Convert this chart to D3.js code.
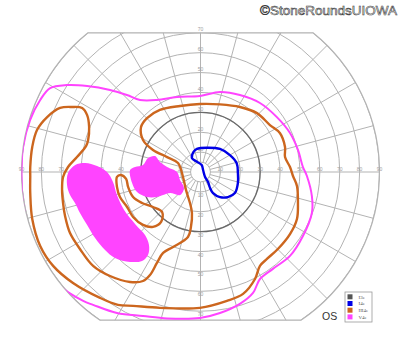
<!DOCTYPE html>
<html>
<head>
<meta charset="utf-8">
<script src="https://cdn.jsdelivr.net/npm/d3@7"></script>
<style>
  html, body { margin: 0; padding: 0; background: #fff; }
  #chart { width: 400px; height: 352px; }
</style>
</head>
<body>
<div id="chart"></div>
<script>
// isopters, in degrees of visual field: [horizontal, vertical]
const isopterV4e = [
  [-90, -2], [-89.2, 12.6], [-85.7, 26.1], [-80.6, 36.2], [-75.6, 42.2], [-67.1, 43.7],
  [-57, 43.2], [-45.5, 41.2], [-37, 38.7], [-30.4, 36.2], [-21.9, 36.2], [-11.8, 37.7],
  [-0.3, 38.2], [9.8, 40.2], [19.8, 38.7], [29.9, 34.7], [38.4, 27.6], [45, 19.6],
  [49, 11.1], [51.5, 2.5], [53.5, -2], [56, -12.1], [56, -20.6], [51.5, -32.2],
  [45, -42.2], [36.4, -48.7], [29.9, -53.8], [26.4, -60.8], [19.8, -66.3], [9.8, -70.9],
  [-0.3, -73.4], [-16.8, -73.6], [-28.9, -72.4], [-42, -70.9], [-54, -66.8], [-59, -64.8],
  [-70.6, -57.3], [-79.1, -45.7], [-85.7, -30.7], [-89.2, -15.6]
];

const isopterIII4e = [
  [-0.3, 34.2], [9.8, 34], [19.8, 32.7], [28.4, 29.6], [34.9, 23.6], [39.9, 19.6],
  [42.5, 12.6], [42.5, 7.5], [45, 2.5], [46.5, -2], [48.5, -7], [49, -15.6],
  [48.5, -23.6], [45, -31.2], [38.9, -38.7], [33.4, -43.7], [29.9, -47.2], [27.4, -53.8],
  [21.4, -61.3], [13.3, -64.8], [-0.3, -68.3], [-20.4, -68.3], [-33.9, -67.3], [-41.5, -66.8],
  [-50.5, -63.3], [-64.1, -55.8], [-74.1, -47.2], [-80.6, -37.2], [-84.6, -23.6], [-85.6, -10.6],
  [-85.6, -2], [-85.6, 2.5], [-84.6, 12.6], [-82.2, 21.1], [-77.1, 27.6], [-70.6, 32.2],
  [-64.6, 32.7], [-59.5, 32.2], [-57, 28.6], [-56, 22.6], [-56.5, 16.1], [-57.5, 13.1],
  [-62.1, 7.5], [-66.6, 2.5], [-69.1, -2.5], [-69.6, -9], [-69.1, -15.6], [-68.1, -22.1],
  [-65.6, -30.7], [-60.6, -38.7], [-54, -47.2], [-45.5, -52.3], [-35.4, -55.3], [-28.9, -54.8],
  [-25.4, -51.8], [-21.9, -45.7], [-18.8, -40.7], [-13.8, -37.7], [-6.3, -32.7], [-4.8, -27.6],
  [-4.3, -20.6], [-5.3, -15.6], [-7.3, -9], [-8.8, -2.5], [-11.3, 4.5], [-16.8, 7.5],
  [-23.9, 11.1], [-28.9, 16.1], [-29.9, 22.6], [-26.9, 27.1], [-20.4, 31.2], [-10.3, 33.2]
];

const isopterIII4eIsland = [
  [-42, -2.5], [-40, -1.5], [-37.4, -3.5], [-36.4, -7.5], [-33.9, -12.6], [-29.4, -15.6],
  [-23.9, -17.6], [-19.3, -20.1], [-19.8, -25.1], [-23.9, -27.6], [-28.9, -26.6], [-33.9, -22.6],
  [-36.9, -17.6], [-40.5, -12.6], [-42, -7.5]
];

const isopterI4e = [
  [-4.3, 7], [-3.5, 10.1], [-1.8, 11.6], [3.3, 12.2], [9.8, 11.6], [14.8, 8.5],
  [18.2, 4.4], [18.8, -0.5], [18.8, -5.5], [17.3, -10.6], [13.8, -12.6], [9.8, -12.6],
  [6.3, -10.6], [4.8, -8], [3.8, -5], [2.3, -2.5], [1.3, 1], [0.6, 3.5], [-1.8, 5.2]
];

// V4e scotomas (filled)
const scotomaV4eLarge = [
  [-63, 3.5], [-58, 4.5], [-52, 3], [-47, 0], [-44, -5], [-42, -11.6],
  [-38.4, -19.1], [-32.9, -26.1], [-27.9, -31.7], [-25.9, -36.7], [-26.4, -41.7], [-29.4, -44.7],
  [-35.4, -45.2], [-43, -43.2], [-48, -39.2], [-53, -33.2], [-57, -26.6], [-60.6, -20.6],
  [-63.1, -15.6], [-65.6, -11.6], [-67.1, -6.5], [-66.6, -0.5]
];

const scotomaV4eSmall = [
  [-35.4, 1], [-32.9, 2.5], [-28.9, 3.5], [-26.4, 7], [-22.9, 8], [-20.4, 5],
  [-16.8, 2.5], [-11.8, 0], [-10.3, -4], [-8.3, -8], [-10.3, -11.6], [-15.3, -10.6],
  [-18.8, -11.6], [-21.9, -12.6], [-26.9, -12.6], [-31.9, -10.1], [-34.4, -5.5]
];

const eccentricities = [10, 20, 30, 40, 50, 60, 70, 80, 90];
const meridians = [0, 15, 30, 45, 60, 75, 90, 105, 120, 135, 150, 165, 180, 195, 210, 225, 240, 255, 270, 285, 300, 315, 330, 345];
const horizontalLabels = [10, 20, 30, 40, 50, 60, 70, 80, 90];
const upperLabels = [10, 20, 30, 40, 50, 60, 70];
const lowerLabels = [10, 20, 30, 40, 50, 60, 70];

const legendLabels = ["I3e", "I4e", "III4e", "V4e"];
const legendColors = ["#555555", "#0000e6", "#cc661e", "#ff44ff"];

const width = 400, height = 352;
const cx = 200.5, cy = 172, R = 179;
const topLimit = 70, bottomLimit = -74.5;

const x = d3.scaleLinear().domain([-90, 90]).range([cx - R, cx + R]);
const y = d3.scaleLinear().domain([-90, 90]).range([cy + R, cy - R]);
const r = d3.scaleLinear().domain([0, 90]).range([0, R]);

const svg = d3.select("#chart").append("svg")
    .attr("width", width)
    .attr("height", height)
    .style("font-family", "'Liberation Sans', Arial, sans-serif");

// chart boundary: 90 deg circle cut flat at top and bottom
const yTop = y(topLimit), yBot = y(bottomLimit);
const dxTop = Math.sqrt(R * R - (cy - yTop) * (cy - yTop));
const dxBot = Math.sqrt(R * R - (yBot - cy) * (yBot - cy));
const boundary = d3.path();
boundary.moveTo(cx - dxTop, yTop);
boundary.lineTo(cx + dxTop, yTop);
boundary.arc(cx, cy, R, Math.atan2(yTop - cy, dxTop), Math.atan2(yBot - cy, dxBot), false);
boundary.lineTo(cx - dxBot, yBot);
boundary.arc(cx, cy, R, Math.atan2(yBot - cy, -dxBot), Math.atan2(yTop - cy, -dxTop), false);
boundary.closePath();

svg.append("clipPath").attr("id", "field")
  .append("path").attr("d", boundary.toString());

const grid = svg.append("g").attr("clip-path", "url(#field)");

grid.selectAll("circle.ring")
  .data([5].concat(eccentricities))
  .enter().append("circle")
    .attr("class", "ring")
    .attr("cx", cx).attr("cy", cy)
    .attr("r", d => r(d))
    .attr("fill", "none")
    .attr("stroke", "#b3b3b3")
    .attr("stroke-width", 1);

grid.selectAll("line.spoke")
  .data(meridians)
  .enter().append("line")
    .attr("class", "spoke")
    .attr("x1", d => cx + r(5) * Math.cos(d * Math.PI / 180))
    .attr("y1", d => cy - r(5) * Math.sin(d * Math.PI / 180))
    .attr("x2", d => cx + r(95) * Math.cos(d * Math.PI / 180))
    .attr("y2", d => cy - r(95) * Math.sin(d * Math.PI / 180))
    .attr("stroke", "#b3b3b3")
    .attr("stroke-width", 1);

svg.append("path")
    .attr("d", boundary.toString())
    .attr("fill", "none")
    .attr("stroke", "#b3b3b3")
    .attr("stroke-width", 1.2);

// 30 degree reference ring
grid.append("circle")
    .attr("cx", cx).attr("cy", cy)
    .attr("r", r(30))
    .attr("fill", "none")
    .attr("stroke", "#6a6a6a")
    .attr("stroke-width", 1.3);

// eccentricity labels
const labels = svg.append("g")
    .attr("font-size", 5)
    .attr("fill", "#a0a0a0")
    .attr("text-anchor", "middle");

labels.selectAll("text.hl")
  .data(horizontalLabels)
  .enter().append("text")
    .attr("x", d => x(-d)).attr("y", cy - 1.5)
    .text(d => d);
labels.selectAll("text.hr")
  .data(horizontalLabels)
  .enter().append("text")
    .attr("x", d => x(d)).attr("y", cy - 1.5)
    .text(d => d);
labels.selectAll("text.vu")
  .data(upperLabels)
  .enter().append("text")
    .attr("x", cx).attr("y", d => y(d) - 1.5)
    .text(d => d);
labels.selectAll("text.vd")
  .data(lowerLabels)
  .enter().append("text")
    .attr("x", cx).attr("y", d => y(-d) + 5)
    .text(d => d);

const shape = d3.line()
    .x(d => x(d[0]))
    .y(d => y(d[1]))
    .curve(d3.curveCatmullRomClosed.alpha(0.5));

const plot = svg.append("g").attr("clip-path", "url(#field)");

plot.selectAll("path.scotoma")
  .data([scotomaV4eLarge, scotomaV4eSmall])
  .enter().append("path")
    .attr("class", "scotoma")
    .attr("d", shape)
    .attr("fill", legendColors[3])
    .attr("stroke", "none");

plot.append("path")
    .attr("d", shape(isopterV4e))
    .attr("fill", "none")
    .attr("stroke", legendColors[3])
    .attr("stroke-width", 2);

plot.selectAll("path.iii4e")
  .data([isopterIII4e, isopterIII4eIsland])
  .enter().append("path")
    .attr("class", "iii4e")
    .attr("d", shape)
    .attr("fill", "none")
    .attr("stroke", legendColors[2])
    .attr("stroke-width", 2.4);

plot.append("path")
    .attr("d", shape(isopterI4e))
    .attr("fill", "none")
    .attr("stroke", legendColors[1])
    .attr("stroke-width", 2.4);

// legend
const legend = svg.append("g").attr("transform", "translate(345,292)");
legend.append("rect")
    .attr("width", 27).attr("height", 30)
    .attr("fill", "#fff")
    .attr("stroke", "#9a9a9a")
    .attr("stroke-width", 0.8);
const item = legend.selectAll("g.item")
  .data(legendLabels)
  .enter().append("g")
    .attr("class", "item")
    .attr("transform", (d, i) => `translate(2.5,${2.3 + i * 6.7})`);
item.append("rect")
    .attr("width", 5).attr("height", 5)
    .attr("fill", (d, i) => legendColors[i]);
item.append("text")
    .attr("x", 11).attr("y", 4.3)
    .attr("font-size", 5)
    .attr("font-family", "'Liberation Serif', serif")
    .attr("fill", "#555")
    .text(d => d);

svg.append("text")
    .attr("x", 322).attr("y", 320)
    .attr("font-size", 10.5)
    .attr("fill", "#333")
    .text("OS");

svg.append("text")
    .attr("x", 397).attr("y", 15)
    .attr("text-anchor", "end")
    .attr("font-size", 13.5)
    .attr("fill", "#fff")
    .attr("stroke", "#3a3a3a")
    .attr("stroke-width", 0.6)
    .text("©StoneRoundsUIOWA");
</script>
</body>
</html>
